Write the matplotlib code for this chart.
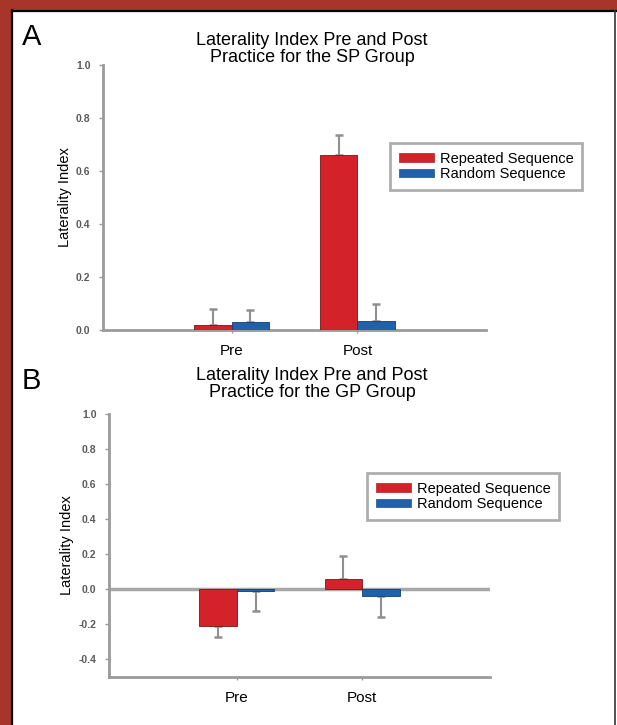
import matplotlib
matplotlib.use('Agg')
import matplotlib.pyplot as plt
import numpy as np
from matplotlib.patches import Rectangle, Patch
from matplotlib.lines import Line2D

plt.rcParams['font.family'] = ['Liberation Sans', 'DejaVu Sans']

# data
categories = ['Pre', 'Post']
series = ['Repeated Sequence', 'Random Sequence']

sp_repeated = [0.02, 0.66]
sp_repeated_err = [0.06, 0.075]
sp_random = [0.03, 0.035]
sp_random_err = [0.045, 0.065]

gp_repeated = [-0.21, 0.057]
gp_repeated_err = [0.063, 0.135]
gp_random = [-0.012, -0.04]
gp_random_err = [0.11, 0.115]

sp_ticks = [0.0, 0.2, 0.4, 0.6, 0.8, 1.0]
gp_ticks = [-0.4, -0.2, 0.0, 0.2, 0.4, 0.6, 0.8, 1.0]

red = '#d3222a'
blue = '#2160aa'
grey = '#9a9a9a'

W, H = 617, 725
fig = plt.figure(figsize=(W / 100, H / 100), dpi=100)
fig.patch.set_facecolor('white')

# frame round the figure
fig.patches.append(Rectangle((0, 1 - 10 / H), 1, 10 / H, transform=fig.transFigure, color='#a8352a', zorder=0))
fig.patches.append(Rectangle((0, 0), 10 / W, 1, transform=fig.transFigure, color='#a8352a', zorder=0))
fig.lines.append(Line2D([11.5 / W, 11.5 / W], [0, 1 - 10 / H], transform=fig.transFigure, color='black', lw=1.6))
fig.lines.append(Line2D([11.5 / W, 1], [1 - 11 / H, 1 - 11 / H], transform=fig.transFigure, color='black', lw=1.6))
fig.lines.append(Line2D([615 / W, 615 / W], [0, 1 - 11 / H], transform=fig.transFigure, color='#333333', lw=1.2))


def ax_box(left, right, top, bottom):
    return [left / W, 1 - bottom / H, (right - left) / W, (bottom - top) / H]


def one_sided(vals, errs):
    lo = [e if v < 0 else 0 for v, e in zip(vals, errs)]
    hi = [0 if v < 0 else e for v, e in zip(vals, errs)]
    return [lo, hi]


def draw_panel(ax, rep, rep_err, rnd, rnd_err, ticks, ylim):
    x = np.arange(len(categories))
    w = 0.3
    ax.bar(x - w / 2, rep, w, color=red, edgecolor='#7a1515', lw=0.6, zorder=3)
    ax.bar(x + w / 2, rnd, w, color=blue, edgecolor='#173d6e', lw=0.6, zorder=3)
    for xs, vals, errs in [(x - w / 2, rep, rep_err), (x + w / 2, rnd, rnd_err)]:
        eb = ax.errorbar(xs, vals, yerr=one_sided(vals, errs), fmt='none', ecolor='#8f8f8f',
                         elinewidth=1.5, capsize=3, capthick=1.8, zorder=2)
        for cap in eb[1]:
            cap.set_color('#555555')
    ax.set_xlim(-1.02, 2.02)
    ax.set_ylim(*ylim)
    ax.set_yticks(ticks)
    ax.set_yticklabels(['%.1f' % t for t in ticks], fontsize=7.5, fontweight='bold', color='#5a5a5a')
    ax.set_xticks(x)
    ax.set_xticklabels(categories, fontsize=11)
    ax.tick_params(axis='y', length=3, width=1, color=grey, pad=6)
    ax.tick_params(axis='x', length=2, width=1, color=grey, pad=8)
    for s in ['top', 'right']:
        ax.spines[s].set_visible(False)
    for s in ['left', 'bottom']:
        ax.spines[s].set_color(grey)
        ax.spines[s].set_linewidth(2)
    ax.set_ylabel('Laterality Index', fontsize=10.5, labelpad=3)
    ax.set_facecolor('none')


handles = [Patch(facecolor=red, edgecolor='#b02020', lw=0.5), Patch(facecolor=blue, edgecolor='#1d4f8f', lw=0.5)]
leg_kw = dict(loc='upper left', fontsize=10.5, frameon=True, fancybox=False, handlelength=2.4,
              handleheight=0.55, handletextpad=0.4, borderpad=0.6, labelspacing=0.1, borderaxespad=0)

axA = fig.add_axes(ax_box(103, 486, 65, 330))
draw_panel(axA, sp_repeated, sp_repeated_err, sp_random, sp_random_err, sp_ticks, (0, 1.0))
legA = fig.legend(handles, series, bbox_to_anchor=(390 / W, 1 - 143 / H), **leg_kw)
legA.get_frame().set_edgecolor(grey)
legA.get_frame().set_linewidth(2)

axB = fig.add_axes(ax_box(109, 490, 414, 677))
draw_panel(axB, gp_repeated, gp_repeated_err, gp_random, gp_random_err, gp_ticks, (-0.5, 1.0))
axB.axhline(0, color='#a8a8a8', lw=2.5, zorder=1)
legB = fig.legend(handles, series, bbox_to_anchor=(367 / W, 1 - 473 / H), **leg_kw)
legB.get_frame().set_edgecolor(grey)
legB.get_frame().set_linewidth(2)

# titles and panel letters
fig.text(312 / W, 1 - 49 / H, 'Laterality Index Pre and Post\nPractice for the SP Group',
         ha='center', va='center', fontsize=13, linespacing=1.02)
fig.text(312 / W, 1 - 384 / H, 'Laterality Index Pre and Post\nPractice for the GP Group',
         ha='center', va='center', fontsize=13, linespacing=1.02)
fig.text(22 / W, 1 - 37 / H, 'A', ha='left', va='center', fontsize=21)
fig.text(22 / W, 1 - 381 / H, 'B', ha='left', va='center', fontsize=21)

fig.savefig('out.png', dpi=100)
